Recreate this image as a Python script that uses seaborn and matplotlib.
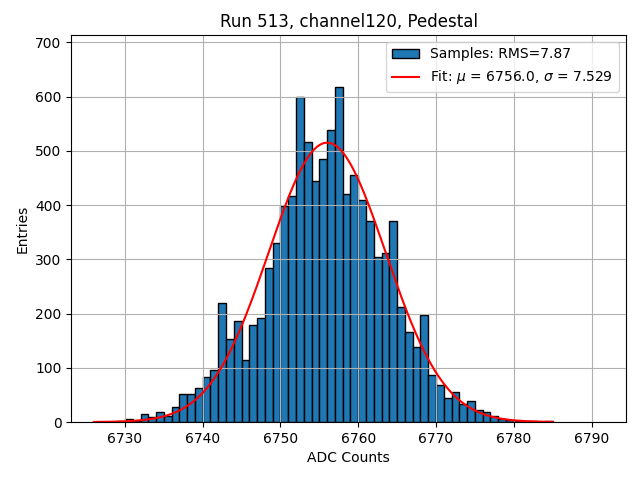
import numpy as np
import pandas as pd
import matplotlib
matplotlib.use("Agg")
import matplotlib.pyplot as plt
import seaborn as sns
from matplotlib.patches import Patch
from matplotlib.lines import Line2D

# Pedestal histogram, 1 ADC count per bin (left edges 6726 .. 6784)
bin_left = list(range(6726, 6785))
counts = [
    0, 0, 0, 2, 6, 2, 14, 9, 18, 12,          # 6726-6735
    27, 51, 52, 62, 83, 96, 219, 153, 186, 115,  # 6736-6745
    178, 192, 284, 330, 398, 416, 599, 516, 444, 484,  # 6746-6755
    538, 617, 421, 455, 409, 370, 305, 311, 370, 212,  # 6756-6765
    166, 139, 197, 87, 68, 44, 55, 34, 38, 22,  # 6766-6775
    18, 11, 6, 3, 2, 1, 1, 0, 1,               # 6776-6784
]

# Gaussian fit result
fit_mu = 6756.0
fit_sigma = 7.529
fit_amp = 515.0
rms = 7.87

run = 513
channel = 120

df = pd.DataFrame({"adc": bin_left, "n": counts})

fig, ax = plt.subplots(figsize=(6.4, 4.8), dpi=100)
fig.subplots_adjust(left=0.1114, right=0.9777, top=0.9271, bottom=0.1208)

# binwidth=1 starting at first left edge -> one bar per ADC count
sns.histplot(data=df, x="adc", weights="n", binwidth=1, binrange=(bin_left[0], bin_left[-1] + 1),
             color="#1f77b4", edgecolor="black", linewidth=1.0, alpha=1.0, ax=ax)

xs = np.linspace(bin_left[0], bin_left[-1] + 1, 400)
ys = fit_amp * np.exp(-0.5 * ((xs - fit_mu) / fit_sigma) ** 2)
sns.lineplot(x=xs, y=ys, color="red", linewidth=1.5, ax=ax)

ax.set_xlim(6723.1, 6794.4)
ax.set_ylim(0, 713.5)
ax.grid(True)
ax.set_title(f"Run {run}, channel{channel}, Pedestal")
ax.set_xlabel("ADC Counts")
ax.set_ylabel("Entries")

handles = [
    Patch(facecolor="#1f77b4", edgecolor="black", label=f"Samples: RMS={rms:.2f}"),
    Line2D([0], [0], color="red", linewidth=1.5,
           label=f"Fit: $\\mu$ = {fit_mu:.1f}, $\\sigma$ = {fit_sigma:.3f}"),
]
ax.legend(handles=handles, loc="upper right")

plt.savefig("out.png", dpi=100)
